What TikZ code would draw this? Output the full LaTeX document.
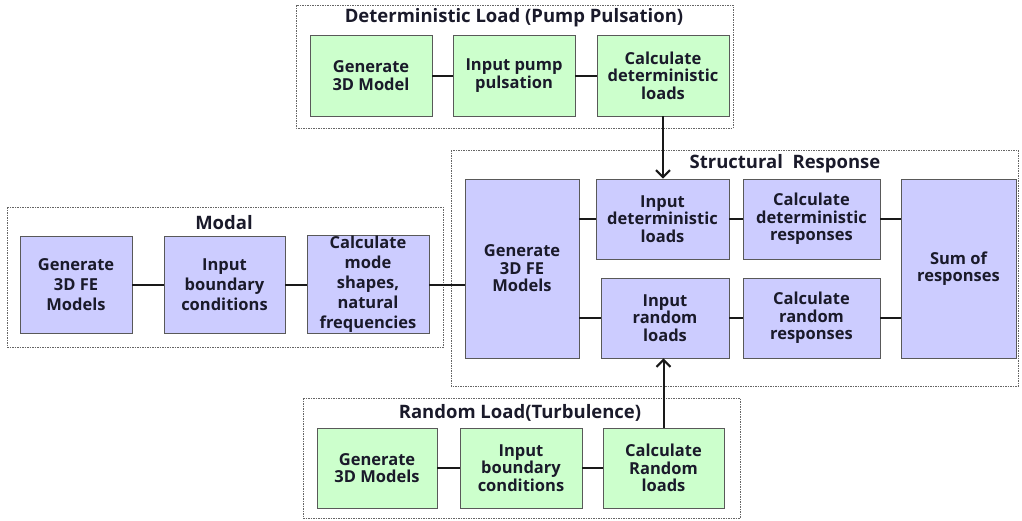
\documentclass[tikz,border=0pt]{standalone}
\usepackage{fontspec}
\setmainfont{Open Sans}
\usetikzlibrary{arrows.meta}
\definecolor{gfill}{HTML}{CCFFCC}
\definecolor{bfill}{HTML}{CCCCFF}
\definecolor{txt}{HTML}{1A1A2A}
\tikzset{
  box/.style={draw=black!65, line width=0.9pt, align=center, inner sep=1pt,
     font=\fontsize{16.5}{17.5}\selectfont\bfseries, text=txt},
  gbox/.style={box, fill=gfill},
  bbox/.style={box, fill=bfill},
  mbox/.style={bbox, font=\fontsize{16.5}{20}\selectfont\bfseries},
  grp/.style={draw=black!60, line width=0.7pt, dash pattern=on 1.5pt off 1pt},
  ttl/.style={font=\fontsize{18.5}{20}\selectfont\bfseries, text=txt},
  link/.style={line width=2pt, black!90},
  arr/.style={link, -{Straight Barb[length=7pt,width=14pt,line width=2pt]}},
}
\begin{document}
\begin{tikzpicture}[x=1pt,y=-1pt]
\useasboundingbox (0,0) rectangle (1022,520);
% groups
\draw[grp] (296,5) rectangle (733,128);
\draw[grp] (451,150) rectangle (1018,386);
\draw[grp] (7,207) rectangle (443,347);
\draw[grp] (303,398) rectangle (740,518);
\node[ttl] (t1) at (514,18) {Deterministic Load (Pump Pulsation)};
\node[ttl] (t2) at (785,164) {Structural\ \ Response};
\node[ttl] (t3) at (224,223) {Modal};
\node[ttl] (t4) at (520,413) {Random Load(Turbulence)};
% top
\node[gbox, minimum width=122pt, minimum height=81pt] (d1) at (371,75.5) {Generate\\3D Model};
\node[gbox, minimum width=122pt, minimum height=81pt] (d2) at (514,75.5) {Input pump\\pulsation};
\node[gbox, minimum width=132pt, minimum height=81pt] (d3) at (663,75.5) {Calculate\\deterministic\\loads};
% structural
\node[bbox, minimum width=114pt, minimum height=179pt] (fe) at (522,268.5) {Generate\\3D FE\\Models};
\node[bbox, minimum width=133pt, minimum height=80pt] (id) at (662.5,219) {Input\\deterministic\\loads};
\node[bbox, minimum width=137pt, minimum height=80pt] (cd) at (811.5,219) {Calculate\\deterministic\\responses};
\node[bbox, minimum width=115pt, minimum height=179pt] (sum) at (958.5,268.5) {Sum of\\responses};
\node[bbox, minimum width=128pt, minimum height=80pt] (ir) at (665,318) {Input\\random\\loads};
\node[bbox, minimum width=137pt, minimum height=80pt] (cr) at (811.5,318) {Calculate\\random\\responses};
% modal
\node[mbox, minimum width=112pt, minimum height=97pt] (m1) at (76,284.5) {Generate\\3D FE\\Models};
\node[mbox, minimum width=121pt, minimum height=97pt] (m2) at (224.5,284.5) {Input\\boundary\\conditions};
\node[mbox, minimum width=122pt, minimum height=97pt] (m3) at (368,284.5) {Calculate\\mode\\shapes,\\natural\\frequencies};
% random
\node[gbox, minimum width=120pt, minimum height=80pt] (r1) at (377,468) {Generate\\3D Models};
\node[gbox, minimum width=122pt, minimum height=80pt] (r2) at (521,468) {Input\\boundary\\conditions};
\node[gbox, minimum width=121pt, minimum height=80pt] (r3) at (663.5,468) {Calculate\\Random\\loads};
% connectors
\draw[link] (d1) -- (d2);
\draw[link] (d2) -- (d3);
\draw[link] (m1) -- (m2);
\draw[link] (m2) -- (m3);
\draw[link] (m3.east) -- (fe.west |- m3.east);
\draw[link] (r1) -- (r2);
\draw[link] (r2) -- (r3);
\draw[link] (fe.east |- id.west) -- (id.west);
\draw[link] (fe.east |- ir.west) -- (ir.west);
\draw[link] (id) -- (cd);
\draw[link] (ir) -- (cr);
\draw[link] (cd.east) -- (sum.west |- cd.east);
\draw[link] (cr.east) -- (sum.west |- cr.east);
\draw[arr] (d3.south) -- (d3.south |- id.north);
\draw[arr] (r3.north) -- (r3.north |- ir.south);
\end{tikzpicture}
\end{document}
